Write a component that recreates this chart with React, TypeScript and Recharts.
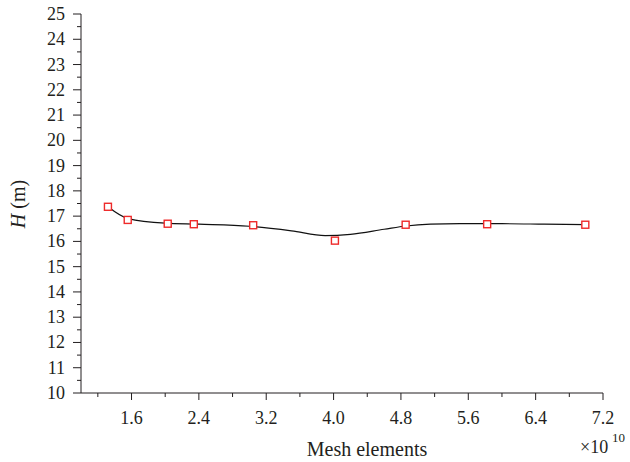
import React from 'react';
import { ComposedChart, Line, Scatter, XAxis, YAxis, Label } from 'recharts';

// measured points (x in units of 1e10)
const meshX = [1.32, 1.555, 2.03, 2.34, 3.045, 4.016, 4.856, 5.824, 6.99];
const headH = [17.37, 16.85, 16.7, 16.68, 16.64, 16.03, 16.66, 16.68, 16.66];

// fitted curve
const fitX = [1.32, 1.56, 2.0, 2.4, 3.0, 3.5, 3.9, 4.2, 4.6, 4.86, 5.15, 5.5, 6.0, 6.5, 6.99];
const fitH = [17.37, 16.9, 16.72, 16.68, 16.6, 16.42, 16.23, 16.28, 16.48, 16.61, 16.68, 16.7, 16.7, 16.68, 16.66];

const xMajor = [1.6, 2.4, 3.2, 4.0, 4.8, 5.6, 6.4, 7.2];
const xMinor = [1.2, 2.0, 2.8, 3.6, 4.4, 5.2, 6.0, 6.8];
const yMajor = [10, 11, 12, 13, 14, 15, 16, 17, 18, 19, 20, 21, 22, 23, 24, 25];
const yMinor = [10.5, 11.5, 12.5, 13.5, 14.5, 15.5, 16.5, 17.5, 18.5, 19.5, 20.5, 21.5, 22.5, 23.5, 24.5];

const points = meshX.map((x, i) => ({ x, h: headH[i] }));
const curve = fitX.map((x, i) => ({ x, h: fitH[i] }));
const xTicks = [...xMajor, ...xMinor].sort((a, b) => a - b);
const yTicks = [...yMajor, ...yMinor].sort((a, b) => a - b);

const INK = '#231f20';
const FONT = '"Liberation Serif", "Times New Roman", serif';

const isMajor = (v: number, list: number[]) => list.some((m) => Math.abs(m - v) < 1e-6);

const XTick = (props: any) => {
  const { x, y, payload } = props;
  const major = isMajor(payload.value, xMajor);
  return (
    <g>
      <line x1={x} y1={y} x2={x} y2={y + (major ? 7 : 4)} stroke={INK} strokeWidth={1} />
      {major && (
        <text x={x} y={y + 31} textAnchor="middle" fontSize={18} fill={INK} fontFamily={FONT}>
          {payload.value.toFixed(1)}
        </text>
      )}
    </g>
  );
};

const YTick = (props: any) => {
  const { x, y, payload } = props;
  const major = isMajor(payload.value, yMajor);
  return (
    <g>
      <line x1={x} y1={y} x2={x - (major ? 8 : 4)} y2={y} stroke={INK} strokeWidth={1} />
      {major && (
        <text x={x - 16} y={y + 6} textAnchor="end" fontSize={18} fill={INK} fontFamily={FONT}>
          {payload.value}
        </text>
      )}
    </g>
  );
};

const Square = (props: any) => {
  const { cx, cy } = props;
  return <rect x={cx - 3.5} y={cy - 3.5} width={7} height={7} fill="#fff" stroke="#ee2a2a" strokeWidth={1.4} />;
};

export default function App() {
  return (
    <div style={{ position: 'absolute', left: 0, top: 0, background: '#fff' }}>
      <ComposedChart width={630} height={462} margin={{ top: 14, right: 27, left: 0, bottom: 0 }}>
        <XAxis
          type="number"
          dataKey="x"
          domain={[1.0, 7.2]}
          ticks={xTicks}
          interval={0}
          tick={<XTick />}
          tickLine={false}
          tickSize={0}
          tickMargin={0}
          height={69}
          axisLine={{ stroke: INK, strokeWidth: 1 }}
          allowDataOverflow
        >
          <Label
            content={() => (
              <g fontFamily={FONT} fill={INK}>
                <text x={367} y={456} textAnchor="middle" fontSize={20}>Mesh elements</text>
                <text x={580} y={453} fontSize={18}>×10</text>
                <text x={612} y={442} fontSize={13}>10</text>
              </g>
            )}
          />
        </XAxis>
        <YAxis
          type="number"
          domain={[10, 25]}
          ticks={yTicks}
          interval={0}
          tick={<YTick />}
          tickLine={false}
          tickSize={0}
          tickMargin={0}
          width={81}
          axisLine={{ stroke: INK, strokeWidth: 1 }}
          allowDataOverflow
        >
          <Label
            content={() => (
              <text
                transform="translate(25,204) rotate(-90)"
                textAnchor="middle"
                fontFamily={FONT}
                fontSize={20}
                fill={INK}
              >
                <tspan fontStyle="italic">H</tspan>
                <tspan> (m)</tspan>
              </text>
            )}
          />
        </YAxis>
        <Line
          data={curve}
          dataKey="h"
          type="monotone"
          stroke="#111"
          strokeWidth={1.2}
          dot={false}
          activeDot={false}
          isAnimationActive={false}
        />
        <Scatter data={points} dataKey="h" shape={<Square />} isAnimationActive={false} />
      </ComposedChart>
    </div>
  );
}
